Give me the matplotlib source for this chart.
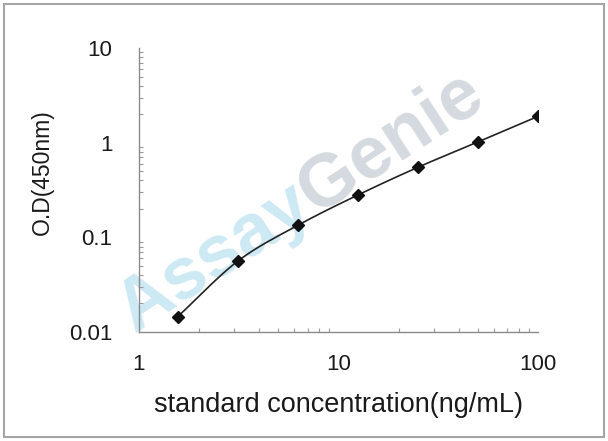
import numpy as np
import matplotlib
matplotlib.use("Agg")
import matplotlib.pyplot as plt
from matplotlib.ticker import FixedLocator, LogLocator, FuncFormatter, NullFormatter
from matplotlib.patches import Rectangle

plt.rcParams["font.family"] = ["Liberation Sans", "DejaVu Sans"]

# standard curve values
concentration = [1.5625, 3.125, 6.25, 12.5, 25, 50, 100]
od_450 = [0.0145, 0.056, 0.134, 0.28, 0.55, 1.02, 1.9]
x_ticks = [1, 10, 100]
y_ticks = [0.01, 0.1, 1, 10]
x_label = "standard concentration(ng/mL)"
y_label = "O.D(450nm)"
watermark = ["Assay", "Genie"]


def smooth_line(xs, ys, steps=30):
    # catmull-rom through the points in log space, like a smoothed excel line
    lx = np.log10(xs)
    ly = np.log10(ys)
    px = np.concatenate([[2 * lx[0] - lx[1]], lx, [2 * lx[-1] - lx[-2]]])
    py = np.concatenate([[2 * ly[0] - ly[1]], ly, [2 * ly[-1] - ly[-2]]])
    out_x, out_y = [], []
    t = np.linspace(0, 1, steps)
    for i in range(1, len(px) - 2):
        for p, out in ((px, out_x), (py, out_y)):
            p0, p1, p2, p3 = p[i - 1], p[i], p[i + 1], p[i + 2]
            seg = 0.5 * ((2 * p1) + (-p0 + p2) * t + (2 * p0 - 5 * p1 + 4 * p2 - p3) * t ** 2
                         + (-p0 + 3 * p1 - 3 * p2 + p3) * t ** 3)
            out.extend(seg)
    return 10 ** np.array(out_x), 10 ** np.array(out_y)


W, H = 608, 441
fig = plt.figure(figsize=(W / 100, H / 100), dpi=100)
ax = fig.add_axes([0.2286, 0.2472, 0.885 - 0.2286, 0.891 - 0.2472])
ax.patch.set_alpha(0)
ax.set_zorder(2)  # keep the curve above the watermark

# watermark, two colours along one rotated baseline
angle = 33
x0, y0 = 134, H - 333
t1 = fig.text(x0 / W, y0 / H, watermark[0], fontsize=53, fontweight="bold", color="#cde9f4",
              ha="left", va="baseline", zorder=0)
fig.canvas.draw()
w1 = t1.get_window_extent().width
t1.set_rotation(angle)
t1.set_rotation_mode("anchor")
a = np.radians(angle)
fig.text((x0 + w1 * np.cos(a)) / W, (y0 + w1 * np.sin(a)) / H, watermark[1], fontsize=53,
         fontweight="bold", color="#d4dadf", rotation=angle, rotation_mode="anchor",
         ha="left", va="baseline", zorder=0)

sx, sy = smooth_line(concentration, od_450)
ax.plot(sx, sy, color="#222222", lw=1.2, zorder=3)
ax.plot(concentration, od_450, ls="none", marker="D", ms=6, color="#111111", zorder=4)

ax.set_xscale("log")
ax.set_yscale("log")
ax.set_xlim(1, 100)
ax.set_ylim(0.01, 10)

ax.xaxis.set_major_locator(FixedLocator(x_ticks))
ax.yaxis.set_major_locator(FixedLocator(y_ticks))
ax.xaxis.set_minor_locator(LogLocator(base=10, subs=np.arange(2, 10)))
ax.yaxis.set_minor_locator(LogLocator(base=10, subs=np.arange(2, 10)))
ax.xaxis.set_minor_formatter(NullFormatter())
ax.yaxis.set_minor_formatter(NullFormatter())
fmt = FuncFormatter(lambda v, p: f"{v:g}")
ax.xaxis.set_major_formatter(fmt)
ax.yaxis.set_major_formatter(fmt)

for s in ["top", "right"]:
    ax.spines[s].set_visible(False)
for s in ["left", "bottom"]:
    ax.spines[s].set_color("#8a8a8a")
    ax.spines[s].set_linewidth(1.0)

ax.tick_params(which="both", direction="in", color="#9a9a9a", width=0.8)
ax.tick_params(which="major", length=0, labelsize=16, labelcolor="#1a1a1a")
ax.tick_params(which="minor", length=3)
ax.tick_params(axis="x", which="major", pad=16)
ax.tick_params(axis="y", which="major", pad=19)

ax.set_xlabel(x_label, fontsize=19.5, color="#1a1a1a", labelpad=12)
ax.set_ylabel(y_label, fontsize=16.5, color="#1a1a1a", va="center")
ax.yaxis.set_label_coords(-0.243, 0.563)

fig.patches.append(Rectangle((0.006, 0.009), 0.987, 0.983, transform=fig.transFigure,
                             fill=False, edgecolor="#a5a5a5", lw=1.5))

fig.savefig("out.png", dpi=100)
